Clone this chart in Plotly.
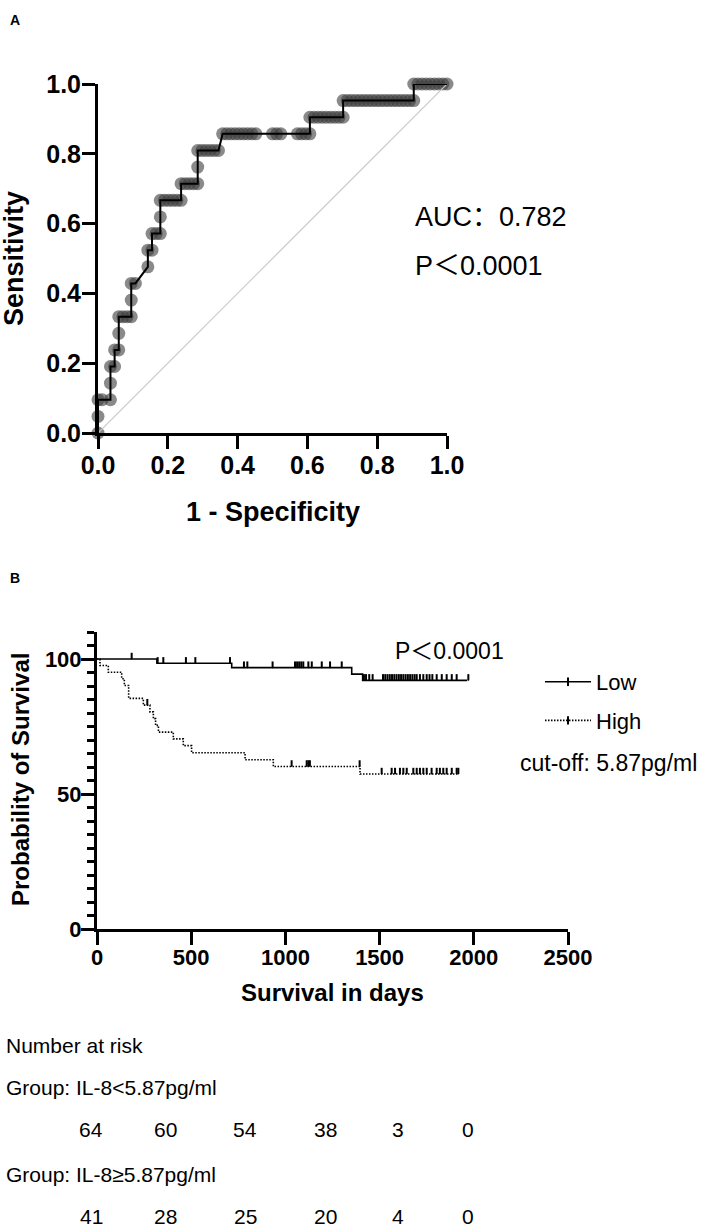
import plotly.graph_objects as go

# ---- panel A: ROC points (counts) ----
n_pos = 21
n_neg = 84
roc_fp = [0, 0, 0, 1, 3, 3, 3, 4, 4, 5, 5, 5, 6, 7, 8, 8, 8, 9, 12, 12, 13, 13, 14, 15, 15, 15,
          16, 17, 18, 19, 20, 20, 21, 22, 23, 24, 24, 24, 25, 26, 27, 28, 29, 30,
          31, 32, 33, 34, 35, 36, 37, 38, 42, 43, 44, 48, 49, 50, 51, 51,
          52, 53, 54, 55, 56, 57, 58, 59, 59, 60, 61, 62, 63, 64, 65, 66, 67, 68,
          69, 70, 71, 72, 73, 74, 75, 76, 76, 77, 78, 79, 80, 81, 82, 83, 84]
roc_tp = [0, 1, 2, 2, 2, 3, 4, 4, 5, 5, 6, 7, 7, 7, 7, 8, 9, 9, 10, 11, 11, 12, 12, 12, 13, 14,
          14, 14, 14, 14, 14, 15, 15, 15, 15, 15, 16, 17, 17, 17, 17, 17, 17, 18,
          18, 18, 18, 18, 18, 18, 18, 18, 18, 18, 18, 18, 18, 18, 18, 19,
          19, 19, 19, 19, 19, 19, 19, 19, 20, 20, 20, 20, 20, 20, 20, 20, 20, 20,
          20, 20, 20, 20, 20, 20, 20, 20, 21, 21, 21, 21, 21, 21, 21, 21, 21]
chance_line = [0, 1]
auc_text = "AUC：0.782"
roc_p_text = "P＜0.0001"

# ---- panel B: Kaplan-Meier steps (days, % survival) ----
low_days = [0, 318, 715, 1352, 1410, 1965]
low_surv = [100, 98.4, 96.8, 94.4, 92.1, 92.1]
low_censor = [184, 322, 352, 472, 522, 706, 780, 798, 932, 1051, 1062, 1073, 1084, 1095,
              1122, 1140, 1193, 1237, 1299, 1417, 1428, 1445, 1463, 1518, 1530, 1542, 1554,
              1566, 1578, 1590, 1602, 1614, 1626, 1638, 1650, 1662, 1674, 1686, 1697, 1714,
              1732, 1750, 1765, 1780, 1803, 1830, 1856, 1883, 1909, 1971]

high_days = [0, 16, 60, 131, 145, 168, 246, 281, 299, 311, 326, 405, 458, 502, 786, 936, 1396, 1918]
high_surv = [100, 97.6, 95.1, 92.7, 90.2, 85.4, 82.9, 80.4, 77.9, 75.4, 72.9, 70.4, 67.9,
             65.3, 62.7, 60.2, 57.4, 57.4]
high_censor = [267, 1033, 1113, 1122, 1130, 1394, 1511, 1564, 1582, 1608, 1626, 1644,
               1679, 1697, 1714, 1732, 1750, 1776, 1803, 1820, 1838, 1856, 1883, 1909, 1918]

km_p_text = "P＜0.0001"
cutoff_text = "cut-off: 5.87pg/ml"

# ---- number at risk table ----
risk_groups = ["Group: IL-8<5.87pg/ml", "Group: IL-8≥5.87pg/ml"]
risk_low = [64, 60, 54, 38, 3, 0]
risk_high = [41, 28, 25, 20, 4, 0]

W, H = 702, 1229
FONT = "Liberation Sans, Arial, Noto Sans CJK SC, sans-serif"
BOLD_AXIS = dict(family=FONT, size=24, color="black", weight="bold")
DOTS = "1.5px,1.5px"


def px_x(x):
    return x / W


def px_y(y):
    return 1 - y / H


def surv_at(days, surv, t):
    # value of the step curve at day t
    val = surv[0]
    for d, s in zip(days, surv):
        if d <= t:
            val = s
    return val


fig = go.Figure()

# ROC circles first, then chance line, then step line on top
roc_x = [fp / n_neg for fp in roc_fp]
roc_y = [tp / n_pos for tp in roc_tp]
fig.add_trace(go.Scatter(x=roc_x, y=roc_y, mode="markers", xaxis="x", yaxis="y",
                         marker=dict(size=13, color="rgba(60,60,60,0.6)", line=dict(width=0)),
                         cliponaxis=False, showlegend=False, hoverinfo="skip"))
fig.add_trace(go.Scatter(x=chance_line, y=chance_line, mode="lines", xaxis="x", yaxis="y",
                         line=dict(color="#c8c8c8", width=1.2), showlegend=False))
fig.add_trace(go.Scatter(x=roc_x, y=roc_y, mode="lines", xaxis="x", yaxis="y",
                         line=dict(color="black", width=2), cliponaxis=False, showlegend=False))

# KM curves
for days, surv, cens, dash, name in [(low_days, low_surv, low_censor, "solid", "Low"),
                                     (high_days, high_surv, high_censor, DOTS, "High")]:
    fig.add_trace(go.Scatter(x=days, y=surv, mode="lines", xaxis="x2", yaxis="y2",
                             line=dict(color="black", width=1.6, dash=dash, shape="hv"),
                             showlegend=False))
    fig.add_trace(go.Scatter(x=cens, y=[surv_at(days, surv, t) for t in cens], mode="markers",
                             xaxis="x2", yaxis="y2", marker=dict(size=1, color="black"),
                             error_y=dict(type="constant", value=2.3, symmetric=False, valueminus=0,
                                          width=0, thickness=2, color="black"),
                             showlegend=False))
    # legend entry
    fig.add_trace(go.Scatter(x=[None], y=[None], mode="lines+markers", xaxis="x2", yaxis="y2",
                             name=name, legendgroup=name,
                             line=dict(color="black", width=1.6, dash=dash),
                             marker=dict(symbol="line-ns", size=6, line=dict(width=2, color="black"))))

axis_common = dict(showline=True, linewidth=3, linecolor="black", ticks="outside", ticklen=13,
                   tickwidth=3, tickcolor="black", showgrid=False, zeroline=False,
                   tickfont=BOLD_AXIS, automargin=False)

fig.update_layout(
    width=W, height=H, margin=dict(l=0, r=0, t=0, b=0, pad=0, autoexpand=False),
    paper_bgcolor="white", plot_bgcolor="white",
    font=dict(family=FONT, color="black"),
    xaxis=dict(axis_common, domain=[px_x(98), px_x(447)], range=[0, 1], tickvals=[0, 0.2, 0.4, 0.6, 0.8, 1.0],
               ticktext=["0.0", "0.2", "0.4", "0.6", "0.8", "1.0"], anchor="y", ticklabelstandoff=-5,
               tickfont=dict(BOLD_AXIS, size=25)),
    yaxis=dict(axis_common, domain=[px_y(433), px_y(84)], range=[0, 1], tickvals=[0, 0.2, 0.4, 0.6, 0.8, 1.0],
               ticktext=["0.0", "0.2", "0.4", "0.6", "0.8", "1.0"], anchor="x", ticklabelstandoff=-4,
               tickfont=dict(BOLD_AXIS, size=25)),
    xaxis2=dict(axis_common, domain=[px_x(97), px_x(568)], range=[0, 2500], dtick=500, anchor="y2",
                tickfont=dict(BOLD_AXIS, size=22), ticklabelstandoff=-6),
    yaxis2=dict(axis_common, domain=[px_y(929), px_y(632)], range=[0, 110], tickvals=[0, 50, 100],
                anchor="x2", tickfont=dict(BOLD_AXIS, size=22), ticklabelstandoff=-5,
                minor=dict(dtick=5, ticks="outside", ticklen=7, tickwidth=3, tickcolor="black",
                           showgrid=False)),
    legend=dict(x=px_x(540), y=px_y(661), xanchor="left", yanchor="top", itemwidth=46,
                font=dict(family=FONT, size=22, color="black"), tracegroupgap=7,
                bgcolor="rgba(0,0,0,0)"),
)

ann = []


def text(x, y, s, size, bold=False, xanchor="left", angle=0):
    ann.append(dict(x=px_x(x), y=px_y(y), xref="paper", yref="paper", text=s, showarrow=False,
                    xanchor=xanchor, yanchor="middle", textangle=angle,
                    font=dict(family=FONT, size=size, color="black",
                              weight="bold" if bold else "normal")))


text(8, 20, "A", 14, bold=True)
text(8, 578, "B", 14, bold=True)
text(14, 259, "Sensitivity", 27, bold=True, xanchor="center", angle=-90)
text(273, 512, "1 - Specificity", 27, bold=True, xanchor="center")
text(413, 217, auc_text, 27)
text(413, 266, roc_p_text, 27)

text(20, 780, "Probability of Survival", 24, bold=True, xanchor="center", angle=-90)
text(332, 992, "Survival in days", 24, bold=True, xanchor="center")
text(393, 651, km_p_text, 23)
text(518, 763, cutoff_text, 23)

text(4, 1045, "Number at risk", 21)
row_x = [91, 165, 245, 325, 398, 468]
for gi, (label, counts, gy) in enumerate([(risk_groups[0], risk_low, 1087),
                                           (risk_groups[1], risk_high, 1174)]):
    text(4, gy, label, 21)
    for xx, c in zip(row_x, counts):
        text(xx, gy + 42, str(c), 21, xanchor="center")

fig.update_layout(annotations=ann)
# page body has a default 8px margin; drop it so the figure fills the window
fig.write_html("out.html", config={"displayModeBar": False},
               post_script="document.body.style.margin='0';")
